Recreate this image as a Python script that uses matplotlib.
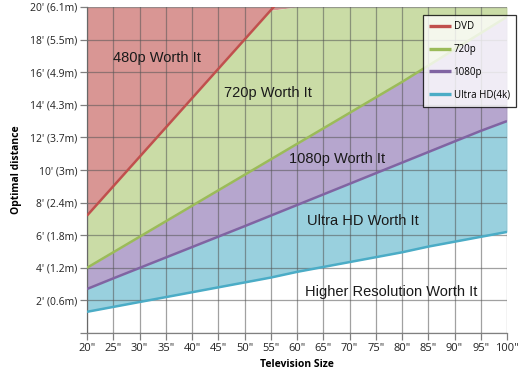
import matplotlib
matplotlib.use("Agg")
import matplotlib.pyplot as plt
import numpy as np

sizes = [20, 25, 30, 35, 40, 45, 50, 55, 60, 65, 70, 75, 80, 85, 90, 95, 100]
dvd = [7.2, 9.0, 10.8, 12.6, 14.4, 16.2, 18.0, 19.8, 21.6, 23.4, 25.2, 27.0, 28.8, 30.6, 32.4, 34.2, 36.0]
p720 = [4.0, 4.95, 5.9, 6.85, 7.8, 8.75, 9.7, 10.65, 11.6, 12.55, 13.5, 14.45, 15.4, 16.4, 17.4, 18.4, 19.4]
p1080 = [2.7, 3.35, 3.99, 4.63, 5.27, 5.91, 6.55, 7.2, 7.85, 8.5, 9.15, 9.8, 10.45, 11.1, 11.75, 12.4, 13.0]
uhd = [1.3, 1.6, 1.9, 2.2, 2.5, 2.8, 3.1, 3.4, 3.75, 4.05, 4.35, 4.65, 4.95, 5.3, 5.6, 5.9, 6.2]

y_ticks = [2, 4, 6, 8, 10, 12, 14, 16, 18, 20]
y_labels = ["2' (0.6m)", "4' (1.2m)", "6' (1.8m)", "8' (2.4m)", "10' (3m)",
            "12' (3.7m)", "14' (4.3m)", "16' (4.9m)", "18' (5.5m)", "20' (6.1m)"]
x_labels = ['%d"' % s for s in sizes]

series_names = ["DVD", "720p", "1080p", "Ultra HD(4k)"]
line_colors = ["#C0504D", "#9BBB59", "#8064A2", "#4BACC6"]
fill_colors = ["#D99694", "#CADCA6", "#B6A6CE", "#99D0DE"]

region_labels = ["480p Worth It", "720p Worth It", "1080p Worth It",
                 "Ultra HD Worth It", "Higher Resolution Worth It"]
region_pos = [(33.3, 16.9), (54.4, 14.7), (67.7, 10.7), (72.6, 6.87), (78.0, 2.5)]

fig = plt.figure(figsize=(5.28, 3.79), dpi=100)
ax = fig.add_axes([87/528, 1-333/379, (507-87)/528, (333-7)/379])

x = np.array(sizes, dtype=float)
top = np.full_like(x, 20.0)
d = np.minimum(np.array(dvd), 20.0)
a720 = np.array(p720); a1080 = np.array(p1080); au = np.array(uhd)

ax.fill_between(x, d, top, color=fill_colors[0], lw=0, zorder=1)
ax.fill_between(x, a720, d, color=fill_colors[1], lw=0, zorder=1)
ax.fill_between(x, a1080, a720, color=fill_colors[2], lw=0, zorder=1)
ax.fill_between(x, au, a1080, color=fill_colors[3], lw=0, zorder=1)

for vals, c, n in zip([dvd, p720, p1080, uhd], line_colors, series_names):
    ax.plot(x, vals, color=c, lw=1.8, label=n, zorder=3, solid_capstyle='butt')

ax.set_xlim(20, 100)
ax.set_ylim(0, 20)
ax.set_xticks(sizes)
ax.set_xticklabels(x_labels)
ax.set_yticks([0] + y_ticks)
ax.set_yticklabels([""] + y_labels)
ax.grid(True, color="#555555", alpha=0.55, lw=0.9, zorder=2)
ax.set_axisbelow(False)
for sp in ["top", "right"]:
    ax.spines[sp].set_visible(False)
for sp in ["left", "bottom"]:
    ax.spines[sp].set_color("#808080")
    ax.spines[sp].set_linewidth(0.9)
ax.tick_params(axis="both", direction="out", length=5, color="#808080", width=0.9,
               labelcolor="#222222", pad=2)
ax.tick_params(axis="y", labelsize=7.5)
ax.tick_params(axis="x", labelsize=8)
for lab in ax.get_xticklabels() + ax.get_yticklabels():
    lab.set_fontfamily("Open Sans")

ax.set_xlabel("Television Size", fontsize=7.5, fontweight="bold", family="Open Sans", labelpad=4)
ax.set_ylabel("Optimal distance", fontsize=7.5, fontweight="bold", family="Open Sans")
ax.yaxis.set_label_coords(-0.155, 0.5)

for t, (px, py) in zip(region_labels, region_pos):
    ax.text(px, py, t, ha="center", va="center", fontsize=10.5, family="Liberation Sans",
            color="#1a1a1a", zorder=4)

leg = ax.legend(loc="upper right", bbox_to_anchor=(516/528, 1-15/379),
                bbox_transform=fig.transFigure, frameon=True, fancybox=False,
                edgecolor="black", fontsize=7, handlelength=2.2, labelspacing=1.2,
                borderpad=0.65, handletextpad=0.3, borderaxespad=0)
leg.get_frame().set_linewidth(0.9)
leg.set_zorder(5)
for txt in leg.get_texts():
    txt.set_fontfamily("Open Sans")
for ln in leg.get_lines():
    ln.set_linewidth(2.4)

fig.savefig("out.png", dpi=100)
